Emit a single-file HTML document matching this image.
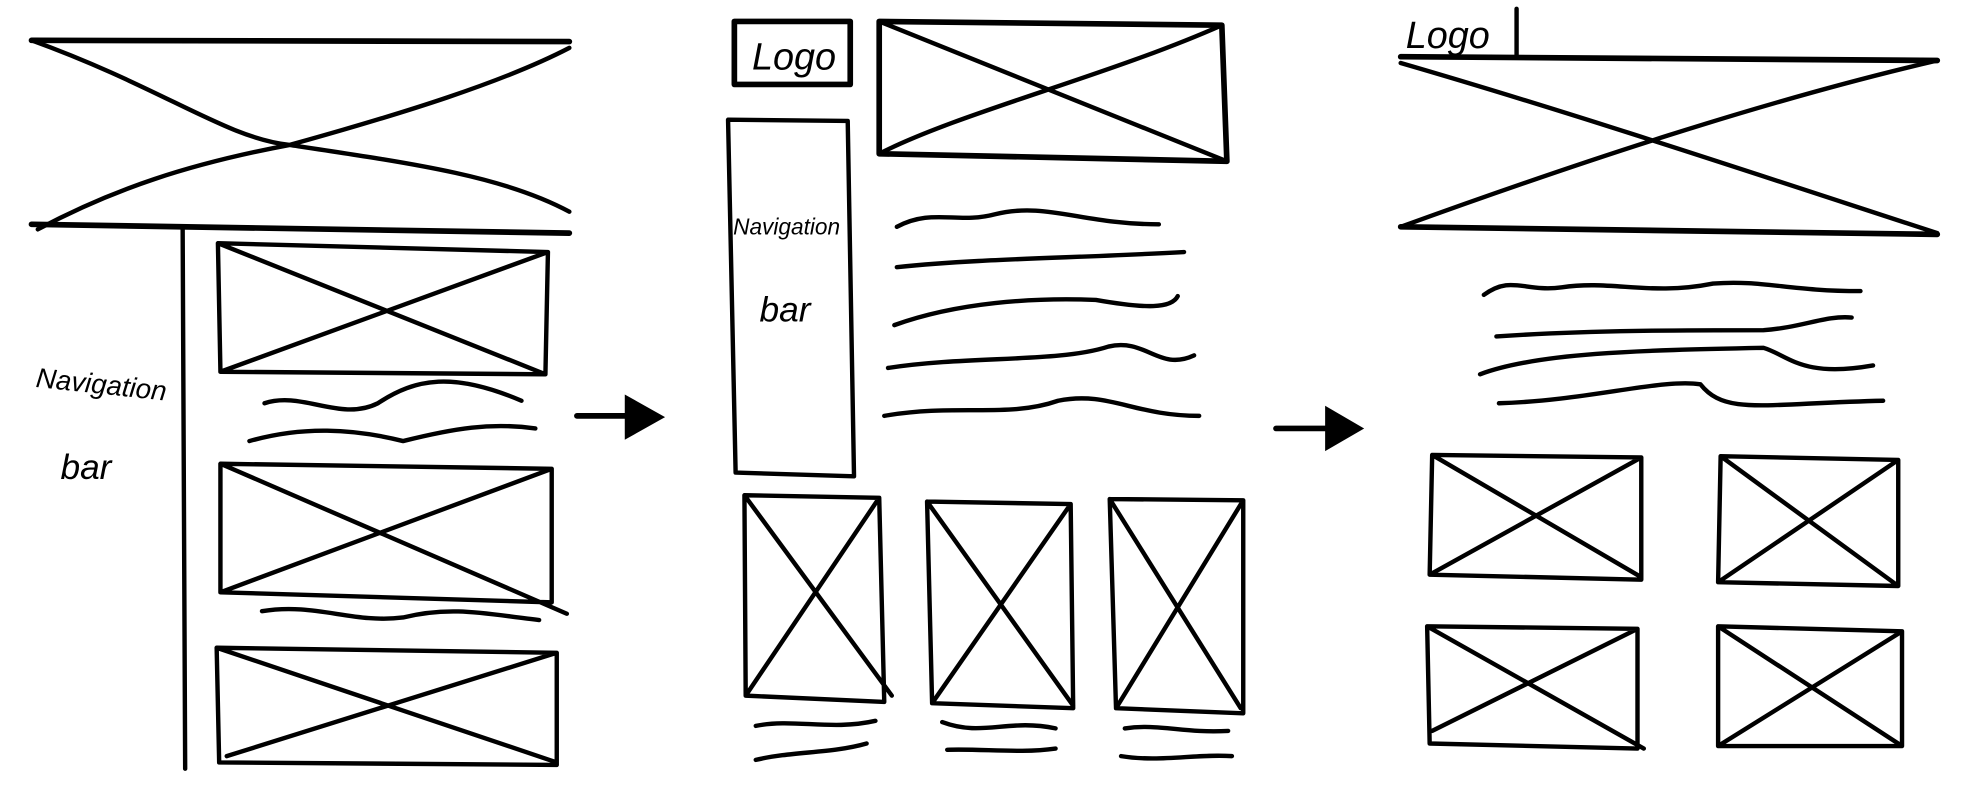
<!DOCTYPE html>
<html><head><meta charset="utf-8"><style>
html,body{margin:0;padding:0;background:#fff;width:1965px;height:804px;overflow:hidden}
svg{display:block}
.s{fill:none;stroke:#000;stroke-width:3.5;stroke-linecap:round;stroke-linejoin:round}
.t{stroke-width:4.5}
.h{font-family:"Liberation Sans",sans-serif;font-style:italic;fill:#000}
</style></head><body>
<svg width="1965" height="804" viewBox="0 0 1560 638" preserveAspectRatio="none">
<g>
<path class="s t" d="M25,32 L452,33 M25,178 L452,185"/>
<path class="s" d="M25,32 C130,70 180,110 230,115 C330,130 400,140 452,168 M30,182 C90,150 150,130 230,115 C320,90 400,65 452,38"/>
<path class="s" d="M145,180 L147,610"/>
<text class="h" x="28" y="307" font-size="22" textLength="104" lengthAdjust="spacingAndGlyphs" transform="rotate(6 28 307)">Navigation</text>
<text class="h" x="48" y="380" font-size="28">bar</text>
<path class="s" d="M173,193 L435,200 L433,297 L175,295 Z M173,193 L433,297 M175,295 L435,200"/>
<path class="s" d="M210,320 C240,310 270,335 300,320 C330,300 360,295 414,318 M198,350 C240,338 280,340 320,350 C360,340 390,335 425,340"/>
<path class="s" d="M175,368 L438,372 L438,478 L175,470 Z M175,368 L450,487 M175,470 L438,372"/>
<path class="s" d="M208,485 C250,478 280,495 320,490 C360,480 390,488 428,492"/>
<path class="s" d="M172,514 L442,518 L442,607 L174,605 Z M172,514 L442,605 M180,600 L442,518"/>
</g>
<g>
<path class="s t" d="M458,330 L500,330"/>
<path d="M496,313 L528,331 L496,349 Z" fill="#000"/>
</g>
<g>
<path class="s t" d="M583,17 L675,17 L675,67 L583,67 Z"/>
<text class="h" x="597" y="55" font-size="30">Logo</text>
<path class="s t" d="M698,17 L970,20 L974,128 L698,122 Z"/>
<path class="s" d="M698,17 L974,128 M698,122 C760,90 880,60 970,20"/>
<path class="s" d="M578,95 L673,96 L678,378 L584,375 Z"/>
<text class="h" x="582" y="186" font-size="18">Navigation</text>
<text class="h" x="603" y="255" font-size="28">bar</text>
<path class="s" d="M712,180 C740,165 760,178 790,170 C830,160 860,178 920,178 M712,212 C780,205 850,205 940,200 M710,258 C760,240 820,236 870,238 C910,245 930,245 935,235 M705,292 C770,282 840,288 880,275 C910,268 920,295 948,282 M702,330 C760,320 800,332 840,318 C880,310 900,330 952,330"/>
<path class="s" d="M591,393 L698,395 L702,557 L592,552 Z M591,393 L708,552 M592,552 L698,395"/>
<path class="s" d="M736,398 L850,400 L852,562 L740,558 Z M736,398 L852,560 M740,558 L850,400"/>
<path class="s" d="M881,396 L987,397 L987,566 L886,562 Z M881,396 L985,562 M886,562 L987,397"/>
<path class="s" d="M600,576 C630,570 660,580 695,572 M600,603 C630,596 660,598 688,590 M748,573 C780,585 800,570 838,578 M752,595 C780,594 810,598 838,594 M893,578 C920,574 940,582 975,580 M890,600 C920,605 950,598 978,600"/>
</g>
<g>
<path class="s t" d="M1013,340 L1055,340"/>
<path d="M1052,322 L1083,340 L1052,358 Z" fill="#000"/>
</g>
<g>
<text class="h" x="1116" y="38" font-size="30">Logo</text>
<path class="s" d="M1204,7 L1204,45"/>
<path class="s t" d="M1112,45 L1538,48 M1112,180 L1538,186"/>
<path class="s" d="M1112,50 C1250,90 1400,140 1538,185 M1112,180 C1250,130 1400,80 1538,48"/>
<path class="s" d="M1178,234 C1200,218 1210,232 1240,228 C1280,222 1310,235 1360,225 C1400,222 1420,231 1477,231 M1188,267 C1260,262 1340,262 1400,262 C1430,260 1450,250 1470,252 M1175,297 C1220,280 1300,278 1400,276 C1420,282 1430,300 1487,290 M1190,320 C1260,318 1320,300 1350,305 C1370,330 1400,320 1495,318"/>
<path class="s" d="M1137,361 L1303,363 L1303,460 L1135,456 Z M1137,361 L1303,458 M1135,456 L1303,363"/>
<path class="s" d="M1366,362 L1507,365 L1507,465 L1364,462 Z M1366,362 L1507,465 M1364,462 L1507,365"/>
<path class="s" d="M1133,497 L1300,499 L1300,594 L1135,590 Z M1133,497 L1305,594 M1137,580 L1300,499"/>
<path class="s" d="M1364,497 L1510,501 L1510,592 L1364,592 Z M1364,497 L1510,592 M1364,592 L1510,501"/>
</g>
</svg>
</body></html>
